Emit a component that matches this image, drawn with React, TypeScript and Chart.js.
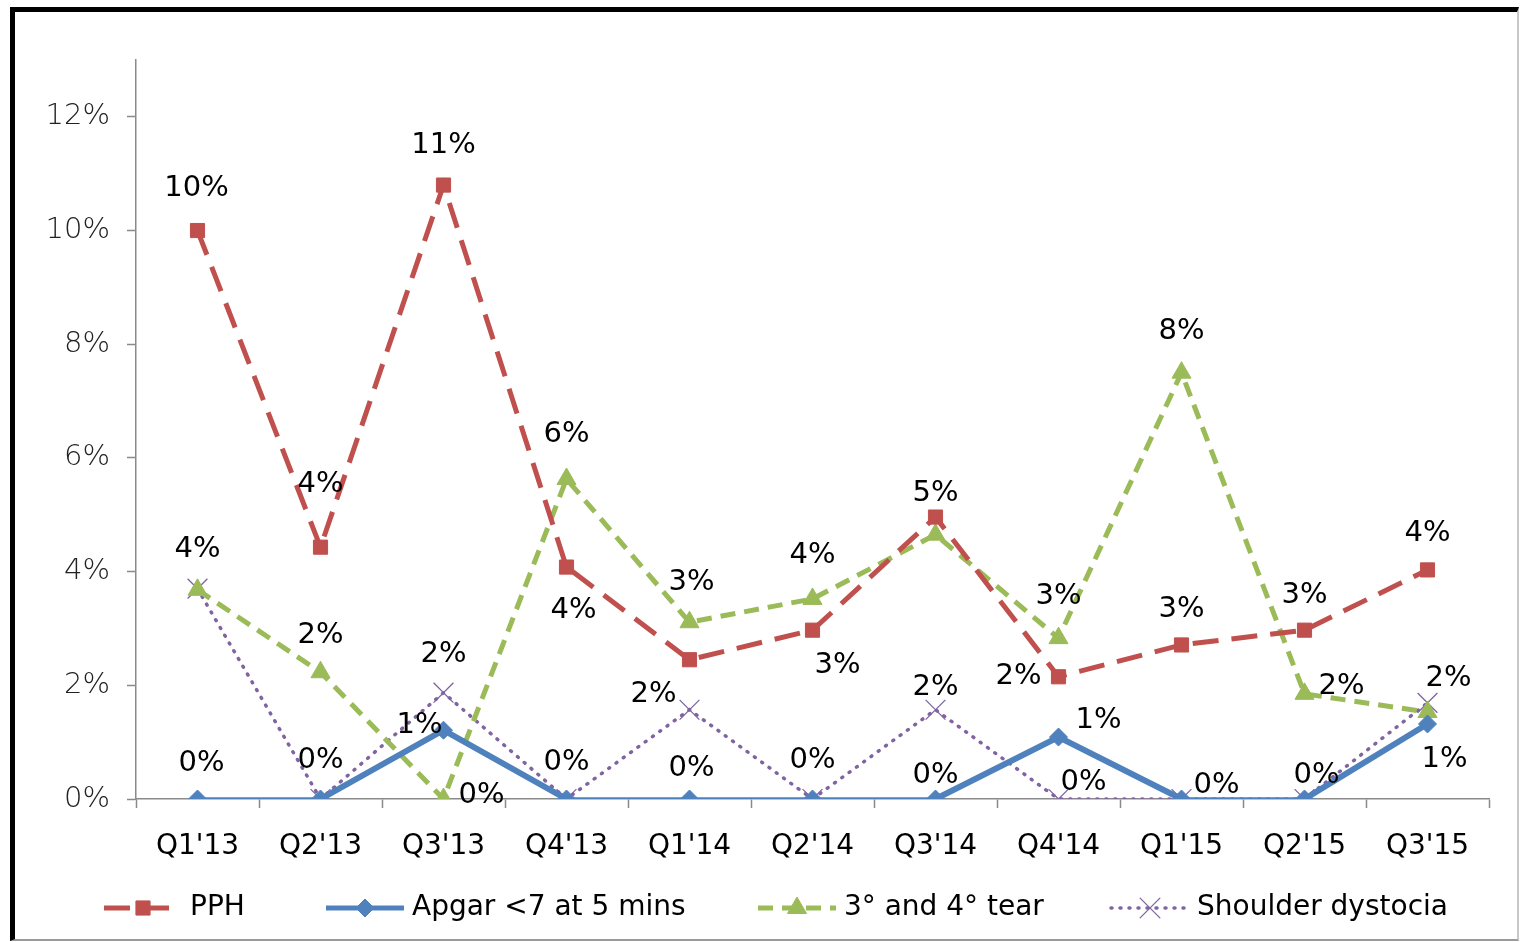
import React, { useEffect, useRef } from "react";
import { Chart, registerables } from "chart.js";
import { drawPoint } from "chart.js/helpers";

Chart.register(...registerables);

// ---------- data ----------
const categories = ["Q1'13", "Q2'13", "Q3'13", "Q4'13", "Q1'14", "Q2'14", "Q3'14", "Q4'14", "Q1'15", "Q2'15", "Q3'15"];
const seriesNames = ["PPH", "Apgar <7 at 5 mins", "3° and 4° tear", "Shoulder dystocia"];
const pphValues = [0.1, 0.0443, 0.108, 0.0408, 0.0245, 0.0297, 0.0496, 0.0215, 0.0271, 0.0297, 0.0403];
const apgarValues = [0, 0, 0.0121, 0, 0, 0, 0, 0.0109, 0, 0, 0.0132];
const tearValues = [0.0368, 0.0223, 0, 0.0563, 0.0311, 0.0352, 0.0465, 0.0283, 0.075, 0.0185, 0.0153];
const shoulderValues = [0.037, 0, 0.0187, 0, 0.0157, 0, 0.0157, 0, 0, 0, 0.0169];
const yTickValues = [0, 0.02, 0.04, 0.06, 0.08, 0.1, 0.12];
const yMax = 0.13;

// ---------- label placement (style, px offsets from the point) ----------
type Off = [number, number] | null;
const pphLabelOffsets: Off[] = [[-1, -42], [0, -63], [0, -40], [7, 43], null, [25, 35], [0, -24], [-40, 0], [0, -35], [0, -35], [0, -36]];
const apgarLabelOffsets: Off[] = [[4, -36], [0, -39], [-24, -5], [0, -37], [2, -31], [0, -39], [0, -24], [40, -17], [35, -14], [12, -24], [17, 36]];
const tearLabelOffsets: Off[] = [[0, -40], [0, -37], [38, -4], [0, -44], [2, -40], [0, -43], null, [0, -42], [0, -41], [37, -7], null];
const shoulderLabelOffsets: Off[] = [null, null, [0, -38], null, [-36, -15], null, [0, -22], [25, -17], null, null, [21, -24]];
const labelOffsets = [pphLabelOffsets, apgarLabelOffsets, tearLabelOffsets, shoulderLabelOffsets];

// legend text start positions (canvas px)
const legendTextX = [175, 397, 829, 1182];

const FONT = "'DejaVu Sans', 'Liberation Sans', sans-serif";
const AXIS_GRAY = "#8a8a8a";

const dataLabelPlugin = {
  id: "dataLabels",
  afterDatasetsDraw(chart: any) {
    const ctx = chart.ctx;
    ctx.save();
    ctx.font = `29px ${FONT}`;
    ctx.fillStyle = "#000";
    ctx.textAlign = "center";
    ctx.textBaseline = "middle";
    chart.data.datasets.forEach((ds: any, i: number) => {
      const meta = chart.getDatasetMeta(i);
      meta.data.forEach((pt: any, j: number) => {
        const off = labelOffsets[i][j];
        if (!off) return;
        const v = ds.data[j];
        ctx.fillText(`${Math.round(v * 100)}%`, pt.x + off[0], pt.y + off[1]);
      });
    });
    ctx.restore();
  },
};

const legendPlugin = {
  id: "customLegend",
  afterDraw(chart: any) {
    const ctx = chart.ctx;
    const sampleW = 78;
    const textGap = 8;
    const y = 896;
    ctx.save();
    ctx.font = `28px ${FONT}`;
    chart.data.datasets.forEach((ds: any, i: number) => {
      const tx = legendTextX[i];
      const x = tx - textGap - sampleW;
      ctx.save();
      ctx.strokeStyle = ds.borderColor;
      ctx.lineWidth = ds.legendLineWidth;
      ctx.setLineDash(ds.borderDash || []);
      ctx.lineCap = ds.borderCapStyle || "butt";
      ctx.beginPath();
      ctx.moveTo(x, y);
      ctx.lineTo(x + sampleW, y);
      ctx.stroke();
      ctx.setLineDash([]);
      ctx.fillStyle = ds.pointBackgroundColor;
      ctx.strokeStyle = ds.pointBorderColor;
      ctx.lineWidth = ds.pointBorderWidth;
      drawPoint(ctx, { pointStyle: ds.pointStyle, radius: ds.pointRadius, rotation: 0, borderWidth: ds.pointBorderWidth }, x + sampleW / 2, y);
      ctx.restore();
      ctx.fillStyle = "#000";
      ctx.textAlign = "left";
      ctx.textBaseline = "middle";
      ctx.fillText(ds.label, tx, y);
    });
    ctx.restore();
  },
};

export default function App() {
  const canvasRef = useRef<HTMLCanvasElement | null>(null);

  useEffect(() => {
    if (!canvasRef.current) return;
    const chart = new Chart(canvasRef.current, {
      type: "line",
      data: {
        labels: categories,
        datasets: [
          {
            label: seriesNames[0],
            data: pphValues,
            borderColor: "#C0504D",
            backgroundColor: "#C0504D",
            borderWidth: 5,
            legendLineWidth: 5,
            borderDash: [26, 13],
            pointStyle: "rect",
            pointRadius: 10,
            pointHoverRadius: 10,
            pointBackgroundColor: "#C0504D",
            pointBorderColor: "#C0504D",
            pointBorderWidth: 1,
            tension: 0,
          } as any,
          {
            label: seriesNames[1],
            data: apgarValues,
            borderColor: "#4F81BD",
            backgroundColor: "#4F81BD",
            borderWidth: 6,
            legendLineWidth: 5,
            segment: {
              borderWidth: (c: any) => (c.p0.parsed.y === 0 && c.p1.parsed.y === 0 ? 3.5 : 6),
            },
            pointStyle: "rectRot",
            pointRadius: 9,
            pointHoverRadius: 9,
            pointBackgroundColor: "#4F81BD",
            pointBorderColor: "#4F81BD",
            pointBorderWidth: 1,
            tension: 0,
          } as any,
          {
            label: seriesNames[2],
            data: tearValues,
            borderColor: "#9BBB59",
            backgroundColor: "#9BBB59",
            borderWidth: 5,
            legendLineWidth: 5,
            borderDash: [15, 9],
            pointStyle: "triangle",
            pointRadius: 11,
            pointHoverRadius: 11,
            pointBackgroundColor: "#9BBB59",
            pointBorderColor: "#9BBB59",
            pointBorderWidth: 1,
            tension: 0,
          } as any,
          {
            label: seriesNames[3],
            data: shoulderValues,
            borderColor: "#8064A2",
            backgroundColor: "#8064A2",
            borderWidth: 3.5,
            legendLineWidth: 3.5,
            borderDash: [1, 8],
            borderCapStyle: "round",
            pointStyle: "crossRot",
            pointRadius: 14,
            pointHoverRadius: 14,
            pointBackgroundColor: "#8064A2",
            pointBorderColor: "#8064A2",
            pointBorderWidth: 1.3,
            tension: 0,
          } as any,
        ],
      },
      options: {
        animation: false,
        responsive: false,
        events: [],
        layout: { padding: { top: 48, right: 28, left: 0, bottom: 70 } },
        plugins: {
          legend: { display: false },
          tooltip: { enabled: false },
          title: { display: false },
        },
        scales: {
          x: {
            type: "category",
            offset: true,
            grid: {
              offset: true,
              drawOnChartArea: false,
              drawTicks: true,
              tickLength: 9,
              tickColor: AXIS_GRAY,
              tickWidth: 1.5,
            },
            border: { display: true, color: AXIS_GRAY, width: 1.5 },
            ticks: {
              color: "#000",
              font: { family: FONT, size: 28 },
              padding: 22,
              maxRotation: 0,
              autoSkip: false,
            },
            afterFit: (s: any) => {
              s.height = 70;
            },
          },
          y: {
            type: "linear",
            min: 0,
            max: yMax,
            afterBuildTicks: (s: any) => {
              s.ticks = yTickValues.map((v) => ({ value: v }));
            },
            grid: {
              drawOnChartArea: false,
              drawTicks: true,
              tickLength: 9,
              tickColor: AXIS_GRAY,
              tickWidth: 1.5,
            },
            border: { display: true, color: AXIS_GRAY, width: 1.5 },
            ticks: {
              color: "#222",
              font: { family: FONT, size: 29, weight: "200" as any },
              padding: 17,
              callback: (v: any) => `${Math.round(Number(v) * 100)}%`,
            },
            afterFit: (s: any) => {
              s.width = 121;
            },
          },
        },
      },
      plugins: [dataLabelPlugin, legendPlugin],
    });
    return () => chart.destroy();
  }, []);

  return (
    <div
      style={{
        position: "absolute",
        left: 10,
        top: 7,
        width: 1502,
        height: 927,
        borderLeft: "5px solid #000",
        borderTop: "5px solid #000",
        borderRight: "2px solid #c8c8c8",
        borderBottom: "2px solid #9a9a9a",
        background: "#fff",
      }}
    >
      <canvas ref={canvasRef} width={1502} height={927} style={{ display: "block" }} />
    </div>
  );
}
